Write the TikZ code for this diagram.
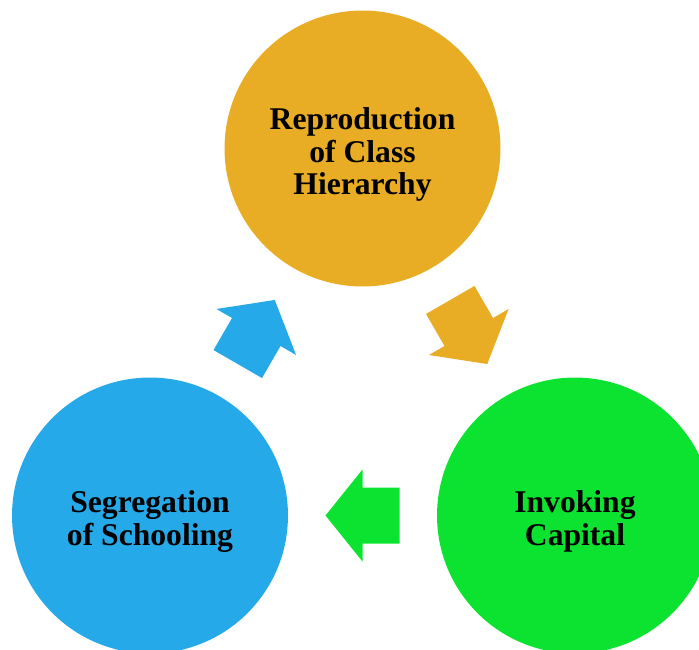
\documentclass[tikz,border=0pt]{standalone}
\usepackage{fontspec}
\setmainfont{Liberation Serif}
\usetikzlibrary{shapes, arrows, positioning, calc}

\definecolor{goldc}{RGB}{232,173,36}
\definecolor{bluec}{RGB}{38,169,232}
\definecolor{greenc}{RGB}{11,227,48}

\newcommand{\phasetext}[1]{\raisebox{-4pt}[\height][\depth]{\begin{tabular}{@{}c@{}}#1\end{tabular}}}

\tikzset{
    phase/.style={circle, minimum size=5.52cm, inner sep=0pt,
        font=\bfseries\fontsize{18}{18.7}\selectfont},
    cyclearrow/.pic={
        \fill (-37,-28) -- (0,-28) -- (0,-46) -- (37,0) -- (0,46) -- (0,28) -- (-37,28) -- cycle;
    }
}

\begin{document}
\begin{tikzpicture}[x=0.02cm, y=-0.02cm]
    \useasboundingbox (0,0) rectangle (699,649);

    % 三个阶段
    \node[phase, fill=goldc] (repro) at (362.5,148.5) {\phasetext{Reproduction\\of Class\\Hierarchy}};
    \node[phase, fill=greenc] (invoke) at (575,515.5) {\phasetext{Invoking\\Capital}};
    \node[phase, fill=bluec] (segreg) at (150,515.5) {\phasetext{Segregation\\of Schooling}};

    % 循环箭头
    \path ($(repro)!0.5!(invoke)$) pic[fill=goldc, rotate=-60] {cyclearrow};
    \path ($(invoke)!0.5!(segreg)$) pic[fill=greenc, rotate=180] {cyclearrow};
    \path ($(segreg)!0.5!(repro)$) pic[fill=bluec, rotate=60] {cyclearrow};

\end{tikzpicture}
\end{document}
